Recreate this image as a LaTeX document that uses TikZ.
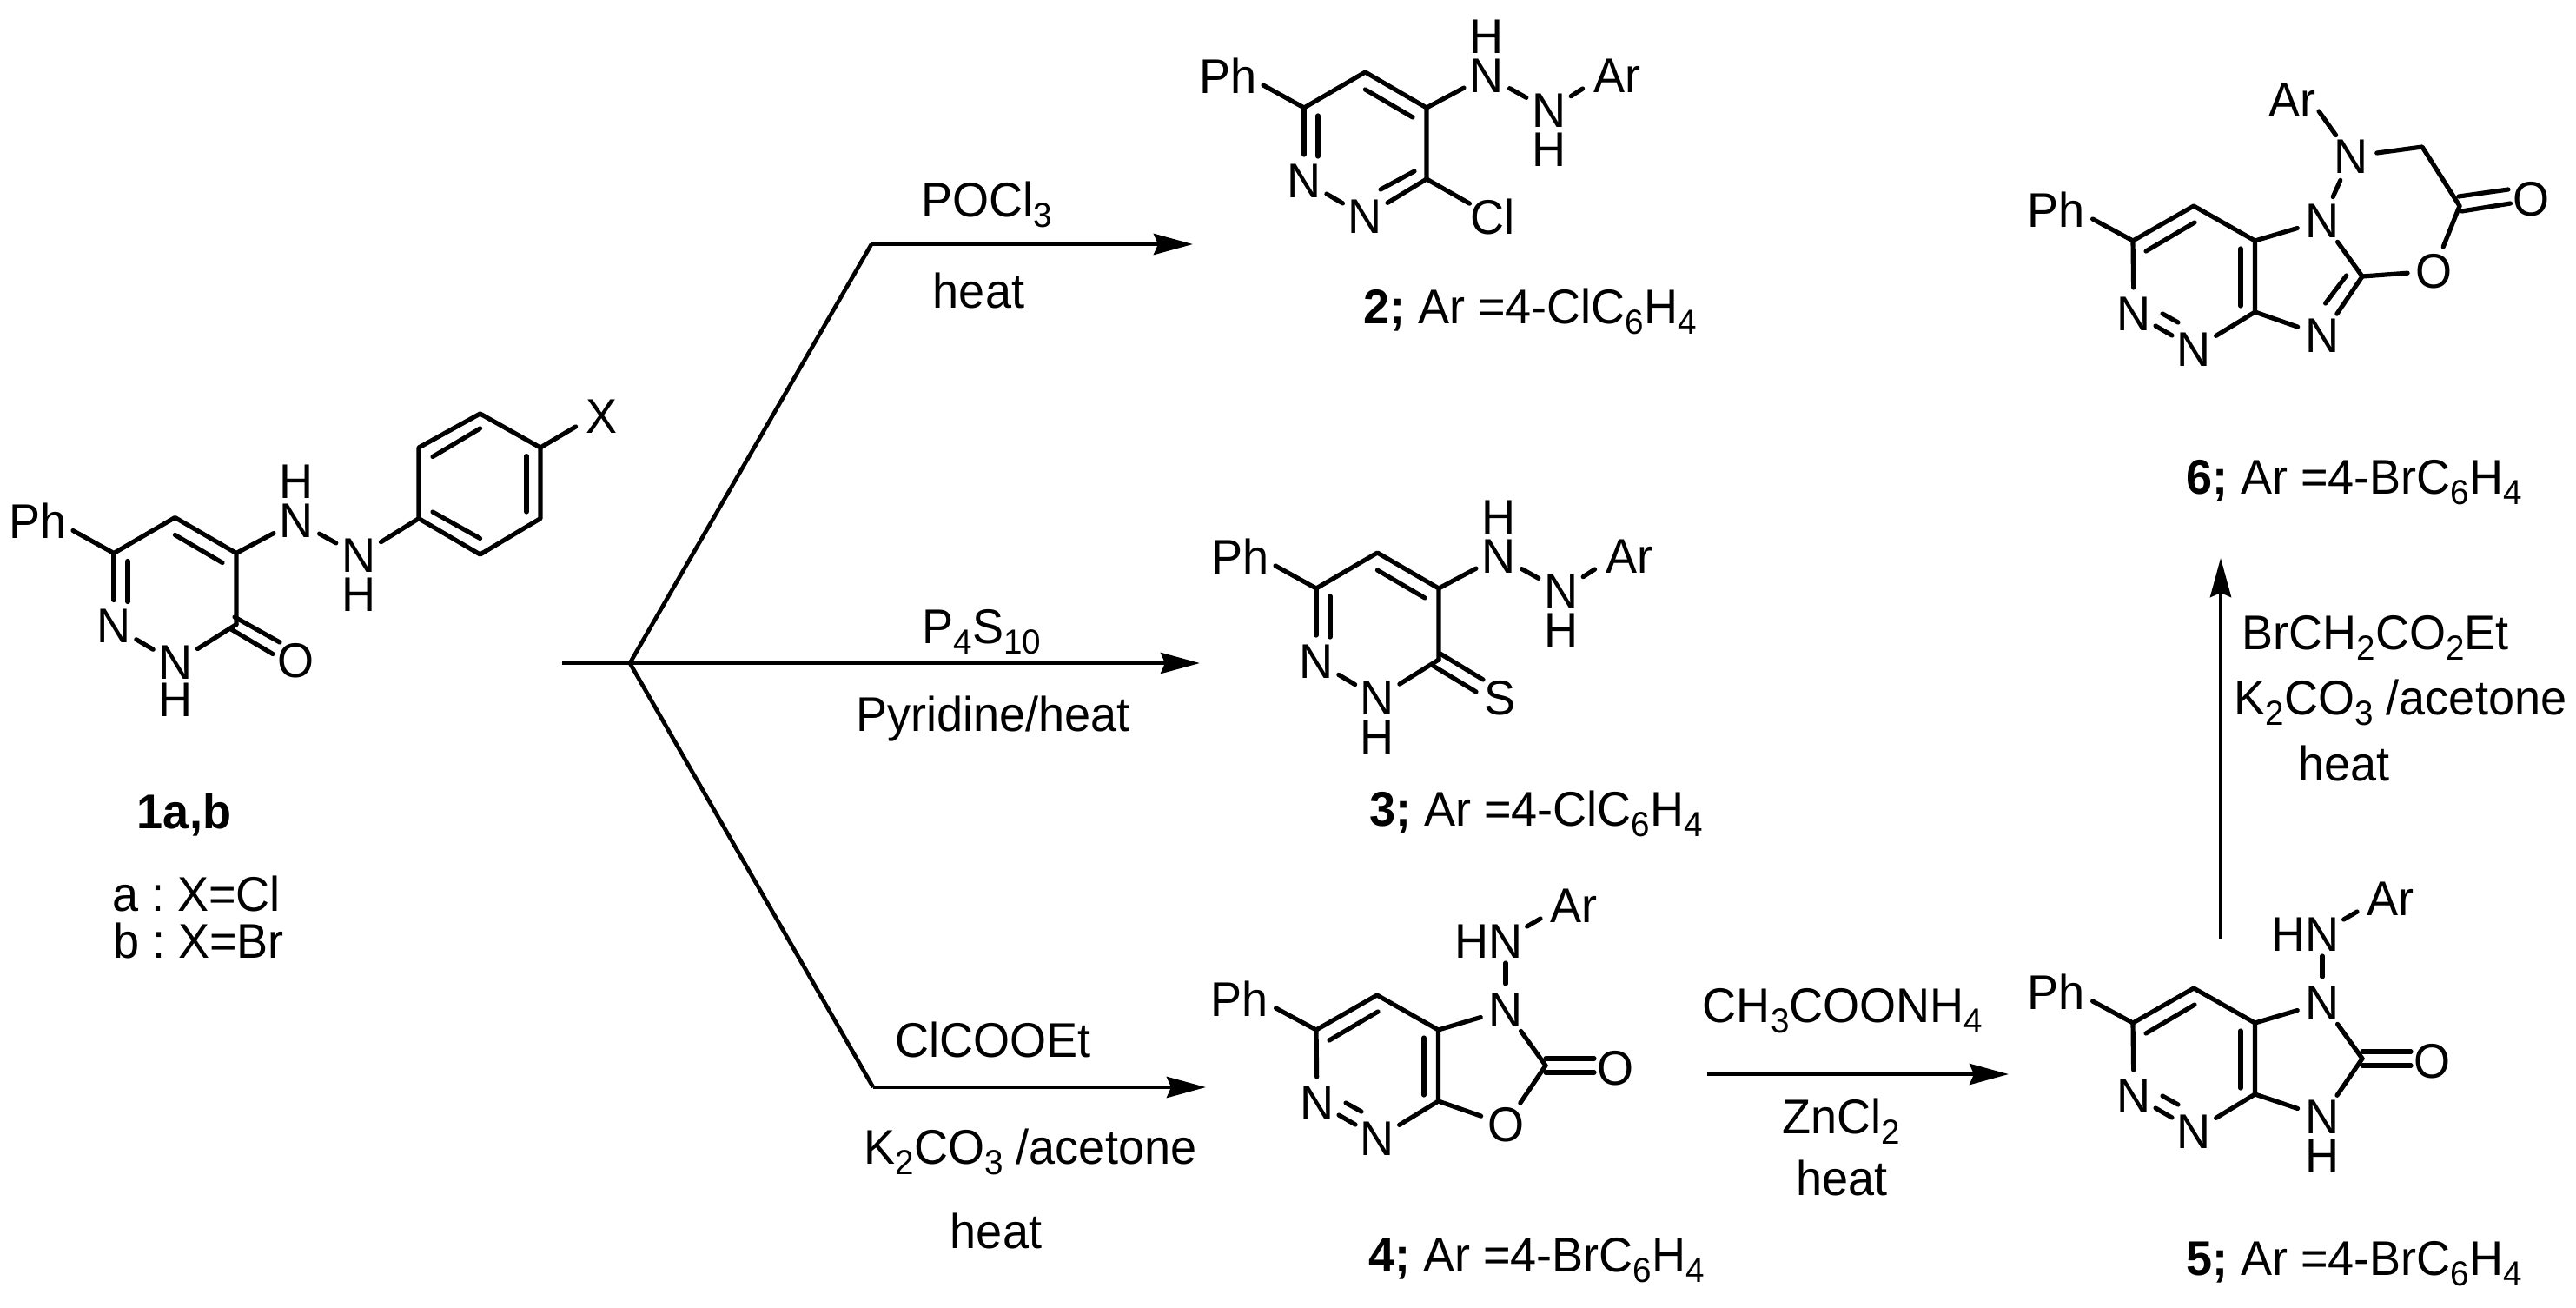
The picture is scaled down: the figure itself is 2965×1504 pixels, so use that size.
\documentclass[tikz,border=0pt]{standalone}
\usepackage{fontspec}
\setmainfont{Liberation Sans}[FakeStretch=0.965]
\usetikzlibrary{arrows.meta}
\frenchspacing
\newcommand\sbs[1]{\raisebox{-6pt}{\fontsize{20}{20}\selectfont #1}}
\tikzset{
  txt/.style={font=\fontsize{28}{32}\selectfont\frenchspacing,inner sep=0pt,outer sep=0pt},
  lab/.style={txt,anchor=base},
  captxt/.style={txt,anchor=base west},
  bond/.style={line width=2.6pt,line cap=round,line join=round},
  toatom/.style={bond,shorten >=15pt},
  fromatom/.style={bond,shorten <=15pt},
  atoms/.style={bond,shorten <=15pt,shorten >=15pt},
  rxn/.style={line width=2.35pt,-{Stealth[length=22.5pt,width=12pt,inset=2.5pt]}},
  rxnl/.style={line width=2.35pt,line join=miter},
}
% shared hydrazinyl-pyridazine core, in the coordinates of compound 2
\newcommand\coreA{
  \coordinate (c6) at (1501,124);
  \coordinate (c5) at (1571.4,83);
  \coordinate (c4) at (1642,124);
  \coordinate (c3) at (1642,206);
  \coordinate (phE) at (1454,98);
  \node[txt] (ph) at (1413.5,87) {Ph};
  \node[txt] (n1) at (1501,208) {N};
  \node[txt] (na) at (1711.4,87) {N};
  \node[txt] (ha) at (1711.4,42) {H};
  \node[txt] (nb) at (1783,127) {N};
  \node[txt] (hb) at (1783,172) {H};
  \draw[bond] (phE) -- (c6) -- (c5) -- (c4) -- (c3);
  \draw[toatom] (c6) -- (n1.center);
  \draw[bond] (1517,133) -- (1517,180);
  \draw[bond] (1571.4,103) -- (1626,135);
  \draw[toatom] (c4) -- (na.center);
  \draw[atoms] (na.center) -- (nb.center);
}
\newcommand\arA{
  \node[txt] (ar) at (1861.6,87) {Ar};
  \coordinate (arE) at (1821.6,102);
  \draw[fromatom] (nb.center) -- (arE);
}
% shared fused pyridazine core, in the coordinates of compound 4
\newcommand\coreB{
  \coordinate (c6) at (1515,1185);
  \coordinate (c5) at (1585,1145);
  \coordinate (c4a) at (1655.5,1185);
  \coordinate (c7a) at (1655.5,1267);
  \coordinate (c2) at (1779,1226);
  \coordinate (phE) at (1468.6,1160);
  \node[txt] (ph) at (1426.5,1149) {Ph};
  \node[txt] (n1) at (1516,1269) {N};
  \node[txt] (n2) at (1585,1310) {N};
  \node[txt] (n5) at (1733,1162) {N};
  \draw[bond] (phE) -- (c6) -- (c5) -- (c4a) -- (c7a);
  \draw[toatom] (c6) -- (n1.center);
  \draw[toatom] (c7a) -- (n2.center);
  \draw[toatom] (c4a) -- (n5.center);
  \draw[fromatom] (n5.center) -- (c2);
  \draw[bond] (1530,1197) -- (1586,1164);
  \draw[bond] (1639,1194) -- (1639,1260);
  \draw[bond] (1541,1283) -- (1560,1294);
  \draw[bond] (1549,1269) -- (1567,1279);
}
\newcommand\hnAr{
  \node[txt] (hn) at (1713.5,1083) {HN};
  \node[txt] (ar) at (1811.4,1042) {Ar};
  \coordinate (hnE) at (1733,1108);
  \coordinate (hnA) at (1757.6,1066);
  \coordinate (arE) at (1773,1057);
  \draw[fromatom] (n5.center) -- (hnE);
  \draw[bond] (hnA) -- (arE);
}
\newcommand\exoO{
  \node[txt] (o) at (1859.6,1229) {O};
  \draw[bond] (c2) ++(0,-8) -- ++(56,0);
  \draw[bond] (c2) ++(0,8) -- ++(56,0);
}
\begin{document}
\begin{tikzpicture}[x=0.5pt,y=-0.5pt]
\useasboundingbox (0,0) rectangle (2965,1504);

% ---------- compound 1
\begin{scope}[shift={(-1370,512.5)},name prefix=s1-]
  \coreA
  \node[txt] (n2) at (1572,250) {N};
  \node[txt] (h2) at (1572,293) {H};
  \node[txt] (o) at (1711,247.5) {O};
  \draw[atoms] (n1.center) -- (n2.center);
  \draw[fromatom] (n2.center) -- (c3);
  \draw[bond] (1640,197.5) -- (1692,226.5);
  \draw[bond] (1636,211.5) -- (1684,240);
\end{scope}
\coordinate (b1) at (482,596.6);
\coordinate (b2) at (482,515);
\coordinate (b3) at (552.6,476);
\coordinate (b4) at (622,515);
\coordinate (b5) at (622,596.6);
\coordinate (b6) at (552.6,638);
\coordinate (xE) at (662.6,491);
\node[txt] (x) at (693,479) {X};
\draw[bond] (b1) -- (b2) -- (b3) -- (b4) -- (b5) -- (b6) -- cycle;
\draw[fromatom] (s1-nb.center) -- (b1);
\draw[bond] (b4) -- (xE);
\draw[bond] (498,525.5) -- (552.6,493);
\draw[bond] (606,524.6) -- (606,589);
\draw[bond] (498,589) -- (552.6,619.5);
\node[lab] (l1) at (212,953) {\textbf{1a,b}};
\node[captxt] (la) at (129,1048) {a : X=Cl};
\node[captxt] (lb) at (130,1102) {b : X=Br};

% ---------- compound 2
\begin{scope}[name prefix=s2-]
  \coreA \arA
  \node[txt] (n2) at (1571.4,249) {N};
  \node[txt] (cl) at (1717.5,249) {Cl};
  \draw[atoms] (n1.center) -- (n2.center);
  \draw[toatom] (c3) -- (n2.center);
  \draw[bond] (1628,197) -- (1589,218);
  \draw[toatom] (c3) -- (cl.center);
\end{scope}
\node[captxt] (l2) at (1569,372) {\textbf{2;} Ar =4-ClC\sbs{6}H\sbs{4}};

% ---------- compound 3
\begin{scope}[shift={(14,553)},name prefix=s3-]
  \coreA \arA
  \node[txt] (n2) at (1571.4,250) {N};
  \node[txt] (h2) at (1571.4,295) {H};
  \node[txt] (s) at (1712,250) {S};
  \draw[atoms] (n1.center) -- (n2.center);
  \draw[fromatom] (n2.center) -- (c3);
  \draw[bond] (1643.5,199) -- (1693,229);
  \draw[bond] (1635.4,213) -- (1685,243);
\end{scope}
\node[captxt] (l3) at (1576,950) {\textbf{3;} Ar =4-ClC\sbs{6}H\sbs{4}};

% ---------- compound 4
\begin{scope}[name prefix=s4-]
  \coreB \hnAr \exoO
  \node[txt] (o1) at (1733,1294) {O};
  \draw[toatom] (c7a) -- (o1.center);
  \draw[fromatom] (o1.center) -- (c2);
\end{scope}
\node[captxt] (l4) at (1575,1463) {\textbf{4;} Ar =4-BrC\sbs{6}H\sbs{4}};

% ---------- compound 5
\begin{scope}[shift={(940,-8)},name prefix=s5-]
  \coreB \hnAr \exoO
  \node[txt] (n3) at (1733,1293) {N};
  \node[txt] (h3) at (1733,1338) {H};
  \draw[toatom] (c7a) -- (n3.center);
  \draw[fromatom] (n3.center) -- (c2);
\end{scope}
\node[captxt] (l5) at (2516,1467) {\textbf{5;} Ar =4-BrC\sbs{6}H\sbs{4}};

% ---------- compound 6
\begin{scope}[shift={(940,-908)},name prefix=s6-]
  \coreB
  \node[txt] (n3) at (1733,1294) {N};
  \node[txt] (o1) at (1861,1220) {O};
  \node[txt] (nt) at (1766,1088) {N};
  \node[txt] (ar) at (1698,1023) {Ar};
  \node[txt] (o) at (1973.6,1137) {O};
  \coordinate (ch2) at (1848,1077);
  \coordinate (c9) at (1891,1145);
  \coordinate (arE) at (1729,1036);
  \draw[toatom] (c7a) -- (n3.center);
  \draw[fromatom] (n3.center) -- (c2);
  \draw[bond] (1736.6,1257) -- (1760.7,1225);
  \draw[toatom] (c2) -- (o1.center);
  \draw[fromatom] (o1.center) -- (c9);
  \draw[atoms] (n5.center) -- (nt.center);
  \draw[fromatom] (nt.center) -- (arE);
  \draw[fromatom] (nt.center) -- (ch2) -- (c9);
  \draw[bond] (1890,1134) -- (1947,1126);
  \draw[bond] (1893.5,1151) -- (1949.5,1142);
\end{scope}
\node[captxt] (l6) at (2516,568) {\textbf{6;} Ar =4-BrC\sbs{6}H\sbs{4}};

% ---------- reaction arrows
\coordinate (start) at (647,763);
\coordinate (branch) at (725,763);
\coordinate (topb) at (1003,281);
\coordinate (topt) at (1373,281);
\coordinate (midt) at (1381,763);
\coordinate (botb) at (1005,1251);
\coordinate (bott) at (1388,1251);
\coordinate (a5s) at (1965,1236);
\coordinate (a5t) at (2312,1236);
\coordinate (a6s) at (2556,1080);
\coordinate (a6t) at (2556,642);
\draw[rxnl] (start) -- (branch);
\draw[rxnl] (branch) -- (topb);
\draw[rxnl] (branch) -- (botb);
\draw[rxn] (topb) -- (topt);
\draw[rxn] (branch) -- (midt);
\draw[rxn] (botb) -- (bott);
\draw[rxn] (a5s) -- (a5t);
\draw[rxn] (a6s) -- (a6t);

% ---------- reagents
\node[lab] (r1) at (1135.5,249) {POCl\sbs{3}};
\node[lab] (r2) at (1126.5,354) {heat};
\node[lab] (r3) at (1130,740) {P\sbs{4}S\sbs{10}};
\node[lab] (r4) at (1143,841) {Pyridine/heat};
\node[lab] (r5) at (1143,1216) {ClCOOEt};
\node[lab] (r6) at (1186,1339) {K\sbs{2}CO\sbs{3} /acetone};
\node[lab] (r7) at (1146.5,1436) {heat};
\node[lab] (r8) at (2121,1176) {CH\sbs{3}COONH\sbs{4}};
\node[lab] (r9) at (2119,1304) {ZnCl\sbs{2}};
\node[lab] (r10) at (2120,1375) {heat};
\node[lab] (r11) at (2734,747) {BrCH\sbs{2}CO\sbs{2}Et};
\node[lab] (r12) at (2763,822) {K\sbs{2}CO\sbs{3} /acetone};
\node[lab] (r13) at (2698,898) {heat};
\end{tikzpicture}
\end{document}
